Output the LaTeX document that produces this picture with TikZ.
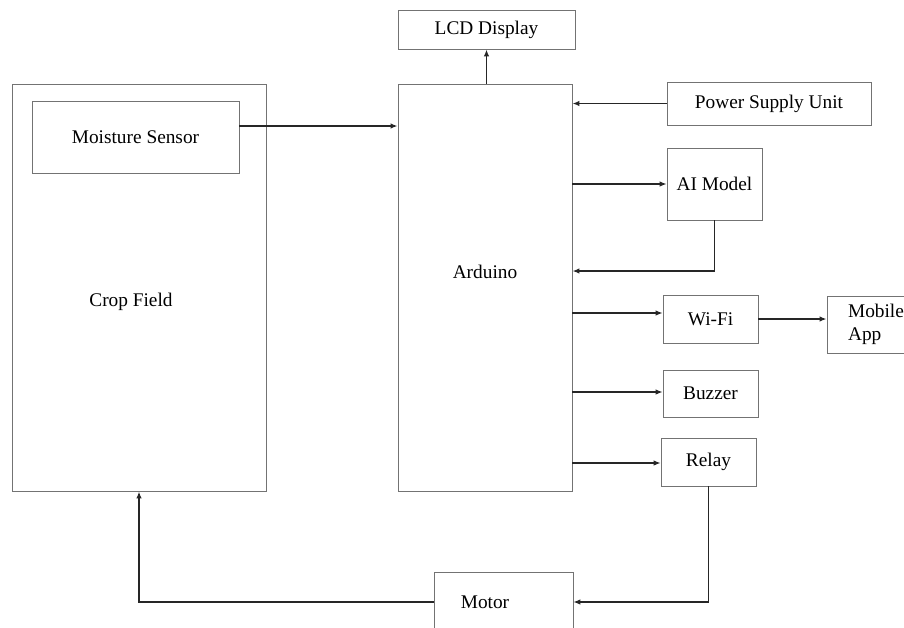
\documentclass[tikz,border=0pt]{standalone}
\usepackage{fontspec}
\setmainfont{Liberation Serif}
\usetikzlibrary{arrows.meta, positioning, calc}

\begin{document}
\begin{tikzpicture}[
            x=0.02cm, y=-0.02cm,
            block/.style={rectangle, draw=black!55, line width=0.5pt, inner sep=2pt,
                          align=center, font=\fontsize{11}{13}\selectfont},
            tag/.style={inner sep=0pt, font=\fontsize{11}{13}\selectfont},
            arrow/.style={-{Latex[length=1.4mm, width=1.1mm]}, line width=0.6pt, black!85}
        ]
            \useasboundingbox (0,0) rectangle (904,627);

            % field side
            \node[block, minimum width=254*0.02cm, minimum height=407*0.02cm] (crop) at (139,287.5) {};
            \node[tag] (croplabel) at (131,302) {Crop Field};
            \node[block, minimum width=207*0.02cm, minimum height=72*0.02cm] (moisture) at (135.5,137) {Moisture Sensor};

            % controller
            \node[block, minimum width=174*0.02cm, minimum height=407*0.02cm] (arduino) at (485,287.5) {};
            \node[tag] (ardlabel) at (485,272) {Arduino};
            \node[block, minimum width=177*0.02cm, minimum height=39*0.02cm] (lcd) at (486.5,29.5) {LCD Display};

            % right column
            \node[block, minimum width=204*0.02cm, minimum height=43*0.02cm] (psu) at (769,103.5) {Power Supply Unit};
            \node[block, minimum width=95*0.02cm, minimum height=72*0.02cm] (ai) at (714.5,184) {AI Model};
            \node[block, minimum width=95*0.02cm, minimum height=48*0.02cm] (wifi) at (710.5,319) {Wi-Fi};
            \node[block, minimum width=98*0.02cm, minimum height=57*0.02cm, align=left] (mobile) at (876,324.5) {Mobile\\App};
            \node[block, minimum width=95*0.02cm, minimum height=47*0.02cm] (buzzer) at (710.5,393.5) {Buzzer};
            \node[block, minimum width=95*0.02cm, minimum height=48*0.02cm] (relay) at (708.5,462) {Relay};
            \node[block, minimum width=139*0.02cm, minimum height=60*0.02cm] (motor) at (503.5,602) {};
            \node[tag] (motorlabel) at (485,602) {Motor};

            \draw[arrow, line width=0.8pt] (moisture.east |- 0,126) -- (arduino.west |- 0,126);
            \draw[arrow, line width=0.8pt] (lcd.south |- arduino.north) -- (lcd.south);
            \draw[arrow, line width=0.8pt] (psu.west) -- (arduino.east |- psu.west);
            \draw[arrow] (arduino.east |- 0,184) -- (ai.west);
            \draw[arrow, line width=0.8pt] (ai.south) -- (ai.south |- 0,271) -- (arduino.east |- 0,271);
            \draw[arrow] (arduino.east |- 0,313) -- (wifi.west |- 0,313);
            \draw[arrow, line width=0.9pt] (wifi.east |- 0,319) -- (mobile.west |- 0,319);
            \draw[arrow] (arduino.east |- 0,392) -- (buzzer.west |- 0,392);
            \draw[arrow] (arduino.east |- 0,463) -- (relay.west |- 0,463);
            \draw[arrow] (relay.south) -- (relay.south |- motor.east) -- (motor.east);
            \draw[arrow, line width=0.8pt] (motor.west) -- (crop.south |- motor.west) -- (crop.south);
        \end{tikzpicture}
\end{document}
